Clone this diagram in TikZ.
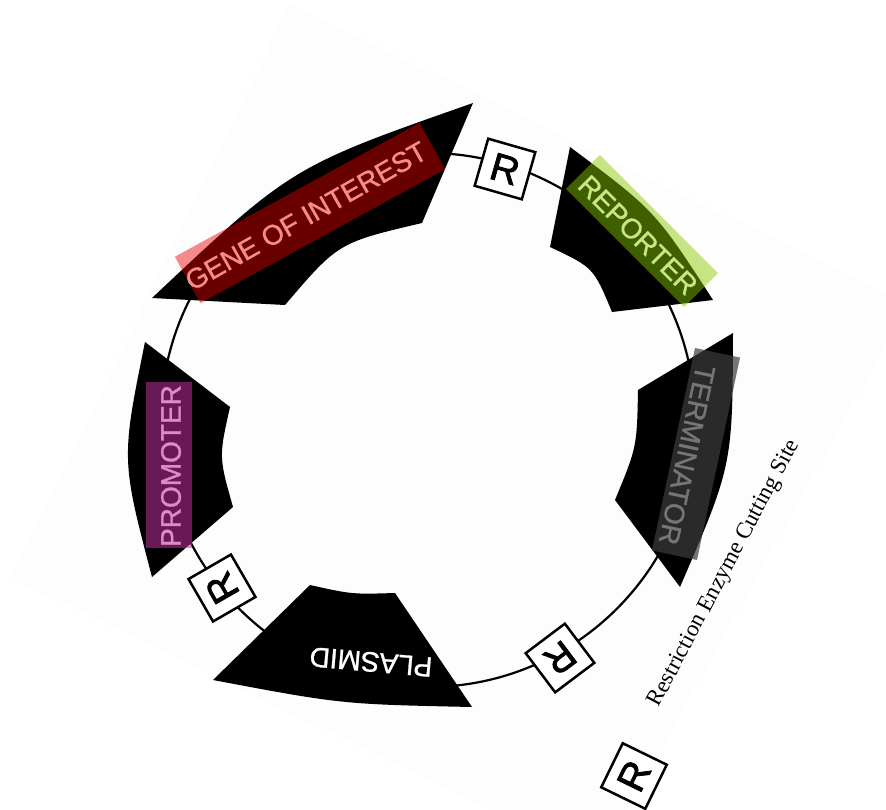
\documentclass[tikz,border=0pt]{standalone}
\usepackage{fontspec}
\setmainfont{Liberation Serif}
\newfontfamily\labfont[FakeBold=1]{Liberation Sans}
\newfontfamily\rfont[FakeBold=2]{Liberation Sans}
\definecolor{hlred}{RGB}{235,0,0}
\definecolor{hlgreen}{RGB}{136,204,0}
\definecolor{hlgray}{RGB}{61,61,61}
\definecolor{hlpurple}{RGB}{193,47,155}
\definecolor{pagecol}{RGB}{253,253,253}
\tikzset{
  backbone/.style={line width=2.2pt},
  partshape/.style={fill=black},
  partlabel/.style={text=white, font=\labfont\fontsize{28}{28}\selectfont, inner sep=0pt},
  hlbox/.style={inner sep=0pt, draw=none},
  rbox/.style={draw=black, line width=2.5pt, fill=white, minimum size=49pt, inner sep=0pt,
               font=\rfont\fontsize{39}{39}\selectfont},
  legendtext/.style={font=\fontsize{23}{23}\selectfont, inner sep=0pt, anchor=base}
}
\begin{document}
\begin{tikzpicture}[x=1pt,y=-1pt]
\useasboundingbox (0,0) rectangle (886,809);
\clip (0,0) rectangle (886,809);
% scanned page
\fill[pagecol] (290,3) -- (909,304) -- (598,863) -- (11,578) -- cycle;
% plasmid backbone
\draw[backbone] (428,420) circle[radius=267pt];
% parts
\fill[partshape] (152,298) .. controls (291.8,166.5) .. (473,103) -- (422,223)
   .. controls (338.2,242.7) .. (285,305) -- cycle;
\fill[partshape] (570,147) -- (550,247) .. controls (593.5,267.5) .. (612,312)
   -- (713,300) .. controls (655.1,210.7) .. (570,147) -- cycle;
\fill[partshape] (733,333) -- (638,390) .. controls (636.9,447.1) .. (615,500)
   -- (680,587) .. controls (732.5,465.3) .. (733,333) -- cycle;
\fill[partshape] (145,342) -- (230,407) .. controls (218.8,457) .. (233,507)
   -- (152,577) .. controls (121.2,459.5) .. (145,342) -- cycle;
\fill[partshape] (310,585) .. controls (351.8,594.3) .. (395,593) -- (472,707)
   .. controls (341.4,704.2) .. (213,680) -- cycle;
% labels
\node[partlabel, rotate=29.5] (geneT) at (306,216) {GENE OF INTEREST};
\node[partlabel, rotate=-45] (repT) at (638,235) {REPORTER};
\node[partlabel, rotate=-102] (termT) at (687,455) {TERMINATOR};
\node[partlabel, rotate=90] (promT) at (171,466) {PROMOTER};
\node[partlabel, rotate=175] (plasT) at (371,662) {PLASMID};
% highlights
\node[hlbox, fill=hlred, fill opacity=.45, rotate=28.7, minimum width=279pt, minimum height=53pt] (geneH) at (310,213) {};
\node[hlbox, fill=hlgreen, fill opacity=.47, rotate=-45, minimum width=167pt, minimum height=48pt] (repH) at (642,231) {};
\node[hlbox, fill=hlgray, fill opacity=.7, rotate=-102, minimum width=207pt, minimum height=46pt] (termH) at (696,454) {};
\node[hlbox, fill=hlpurple, fill opacity=.55, minimum width=46pt, minimum height=166pt] (promH) at (169,465) {};
% restriction sites
\node[rbox, rotate=-16] (r1) at (505,169) {R};
\node[rbox, rotate=217] (r2) at (560,658) {R};
\node[rbox, rotate=120] (r3) at (222,588) {R};
% legend
\node[rbox, rotate=64] (r4) at (634,776) {R};
\node[legendtext, rotate=62] (legT) at (729,576) {Restriction Enzyme Cutting Site};
\end{tikzpicture}
\end{document}
